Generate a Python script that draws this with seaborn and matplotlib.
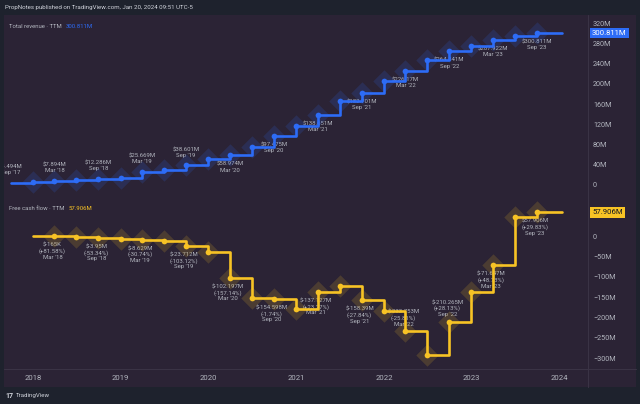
import pandas as pd
import matplotlib
matplotlib.use("Agg")
import matplotlib.pyplot as plt
import matplotlib.dates as mdates
from matplotlib.patches import Rectangle
import seaborn as sns

# ----------------------------------------------------------------------
# Data: quarterly TTM figures (millions USD), Sep '17 .. Sep '23
# ----------------------------------------------------------------------
rev_quarters = pd.period_range("2017Q3", "2023Q3", freq="Q")
revenue = [4.494, 6.6, 7.894, 9.9, 12.286, 14.3, 25.669, 30.3, 38.601, 51.8,
           58.974, 74.8, 97.475, 117.3, 138.651, 166.0, 182.701, 205.0,
           226.17, 247.5, 264.841, 275.5, 287.922, 294.3, 300.811]

fcf_quarters = pd.period_range("2017Q4", "2023Q3", freq="Q")
fcf = [-0.9, -0.165, -3.45, -3.95, -6.4, -8.629, -12.7, -23.712, -40.1,
       -102.197, -151.5, -154.598, -179.0, -137.127, -122.4, -158.39, -185.5,
       -233.753, -293.7, -210.265, -138.8, -71.647, 46.4, 57.906]

rev_value_labels = ["$4.494M", "$7.894M", "$12.286M", "$25.669M", "$38.601M",
                    "$58.974M", "$97.475M", "$138.651M", "$182.701M",
                    "$226.17M", "$264.841M", "$287.922M", "$300.811M"]
fcf_value_labels = ["$-165K", "$-3.95M", "$-8.629M", "$-23.712M", "$-102.197M",
                    "$-154.598M", "$-137.127M", "$-158.39M", "$-233.753M",
                    "$-210.265M", "$-71.647M", "$57.906M"]
fcf_pct_labels = ["(+81.58%)", "(-53.34%)", "(-30.74%)", "(-103.12%)",
                  "(-157.14%)", "(-1.74%)", "(+23.27%)", "(-27.84%)",
                  "(-25.81%)", "(+28.13%)", "(+48.73%)", "(+29.83%)"]

rev_ticks = [0, 40, 80, 120, 160, 200, 240, 280, 320]
fcf_ticks = [0, -50, -100, -150, -200, -250, -300]
year_ticks = [2018, 2019, 2020, 2021, 2022, 2023, 2024]

last_date = pd.Timestamp("2024-01-12")   # lines run on to "today"

# ----------------------------------------------------------------------
# Styling
# ----------------------------------------------------------------------
FRAME = "#1e222d"
PANE = "#2b2335"
BLUE = "#2d6cf6"
YELLOW = "#f7c325"
TXT = "#b2b5be"
LINE_DIV = "#3a3345"
SMALL = 4.3

sns.set_theme(style="dark")
plt.rcParams["font.family"] = ["Roboto", "DejaVu Sans"]

W, H = 640, 404
fig = plt.figure(figsize=(W / 100, H / 100), dpi=100, facecolor=FRAME)


def fbox(x0, y0, x1, y1):
    # pixel box (top-down) -> figure fraction rect
    return [x0 / W, 1 - y1 / H, (x1 - x0) / W, (y1 - y0) / H]


fig.patches.append(Rectangle((4 / W, 1 - 387 / H), 632 / W, 372 / H,
                             transform=fig.transFigure, facecolor=PANE,
                             edgecolor="none", zorder=-5))
# pane / axis dividers
fig.add_artist(plt.Line2D([588 / W, 588 / W], [1 - 387 / H, 1 - 15 / H],
                          color=LINE_DIV, lw=0.8, zorder=-4))
fig.add_artist(plt.Line2D([4 / W, 636 / W], [1 - 369 / H, 1 - 369 / H],
                          color=LINE_DIV, lw=0.8, zorder=-4))

ax1 = fig.add_axes(fbox(4, 15, 588, 197))
ax2 = fig.add_axes(fbox(4, 197, 588, 369), sharex=ax1)

x_left = pd.Timestamp("2017-09-02")
x_right = pd.Timestamp("2024-04-29")


def draw_series(ax, quarters, values, color):
    dates = list(quarters.to_timestamp(how="end").normalize())
    df = pd.DataFrame({"date": dates + [last_date],
                       "value": list(values) + [values[-1]]})
    sns.lineplot(data=df, x="date", y="value", ax=ax, color=color, lw=1.9,
                 drawstyle="steps-post", zorder=4)
    pts = pd.DataFrame({"date": dates[1:], "value": values[1:]})
    sns.scatterplot(data=pts, x="date", y="value", ax=ax, marker="D", s=130,
                    color=color, alpha=0.16, linewidth=0, zorder=3)
    sns.scatterplot(data=pts, x="date", y="value", ax=ax, marker="o", s=17,
                    color=color, linewidth=0, zorder=5)
    return dates


rev_dates = draw_series(ax1, rev_quarters, revenue, BLUE)
fcf_dates = draw_series(ax2, fcf_quarters, fcf, YELLOW)

# point labels (every Mar / Sep)
rev_above = [True] * 5 + [False] * 8
for i, (lbl, up) in enumerate(zip(rev_value_labels, rev_above)):
    d = rev_dates[2 * i]
    ax1.annotate(f"{lbl}\n{d.strftime('%b')} '{d.strftime('%y')}",
                 xy=(d, revenue[2 * i]), xytext=(0, 13 if up else -12),
                 textcoords="offset pixels", ha="center", va="center",
                 fontsize=SMALL, color=TXT, linespacing=1.15, zorder=2,
                 clip_on=True)

fcf_above = [False] * 8 + [True, True] + [False, False]
for i, (lbl, pct, up) in enumerate(zip(fcf_value_labels, fcf_pct_labels,
                                       fcf_above)):
    d = fcf_dates[2 * i + 1]
    ax2.annotate(f"{lbl}\n{pct}\n{d.strftime('%b')} '{d.strftime('%y')}",
                 xy=(d, fcf[2 * i + 1]), xytext=(-2, 13 if up else -15),
                 textcoords="offset pixels", ha="center", va="center",
                 fontsize=SMALL, color=TXT, linespacing=1.15, zorder=2,
                 clip_on=True)

# axes
ax1.set_ylim(-23.8, 336.6)
ax2.set_ylim(-327.0, 95.9)
ax1.set_xlim(x_left, x_right)


def fmt_m(v):
    return "0" if v == 0 else f"{v}M".replace("-", "\u2212")


for ax, ticks in ((ax1, rev_ticks), (ax2, fcf_ticks)):
    ax.set_facecolor("none")
    ax.grid(False)
    for sp in ax.spines.values():
        sp.set_visible(False)
    ax.set_xlabel("")
    ax.set_ylabel("")
    ax.yaxis.tick_right()
    ax.set_yticks(ticks)
    ax.set_yticklabels([fmt_m(t) for t in ticks])
    ax.tick_params(axis="y", length=0, pad=3.6, labelsize=5.2, labelcolor=TXT)

ax1.tick_params(axis="x", bottom=False, labelbottom=False)
ax2.set_xticks([pd.Timestamp(f"{y}-01-01") for y in year_ticks])
ax2.xaxis.set_major_formatter(mdates.DateFormatter("%Y"))
ax2.tick_params(axis="x", length=0, pad=4.2, labelsize=5.6, labelcolor=TXT)

# price tags on the right scale
ax1.annotate(f"{revenue[-1]:.3f}M", xy=(1, revenue[-1]),
             xycoords=("axes fraction", "data"), xytext=(4, 0),
             textcoords="offset pixels", ha="left", va="center", fontsize=5.6,
             color="white", annotation_clip=False,
             bbox=dict(boxstyle="square,pad=0.3", fc=BLUE, ec="none"))
ax2.annotate(f"{fcf[-1]:.3f}M", xy=(1, fcf[-1]),
             xycoords=("axes fraction", "data"), xytext=(4, 0),
             textcoords="offset pixels", ha="left", va="center", fontsize=5.6,
             color="#131722", annotation_clip=False,
             bbox=dict(boxstyle="square,pad=0.3", fc=YELLOW, ec="none"))

# pane legends
for ax, name, val, col in ((ax1, "Total revenue \u00b7 TTM", revenue[-1], BLUE),
                           (ax2, "Free cash flow \u00b7 TTM", fcf[-1], YELLOW)):
    t = ax.annotate(name, xy=(0, 1), xycoords="axes fraction", xytext=(5, -12),
                    textcoords="offset pixels", ha="left", va="center",
                    fontsize=SMALL, color=TXT)
    ax.annotate(f"{val:.3f}M", xy=(1, 0.5), xycoords=t, xytext=(4, 0),
                textcoords="offset pixels", ha="left", va="center",
                fontsize=SMALL, color=col)

# header / footer
fig.text(5 / W, 1 - 7 / H, "PropNotes published on TradingView.com, Jan 20, 2024 09:51 UTC-5",
         fontsize=4.4, color="#d1d4dc", va="center", ha="left")
fig.text(5 / W, 1 - 396 / H, "17", fontsize=5, fontweight="bold",
         color="#d1d4dc", va="center", ha="left")
fig.text(16 / W, 1 - 396 / H, "TradingView", fontsize=4.4, color="#d1d4dc",
         va="center", ha="left")

fig.savefig("out.png", dpi=100, facecolor=FRAME)
